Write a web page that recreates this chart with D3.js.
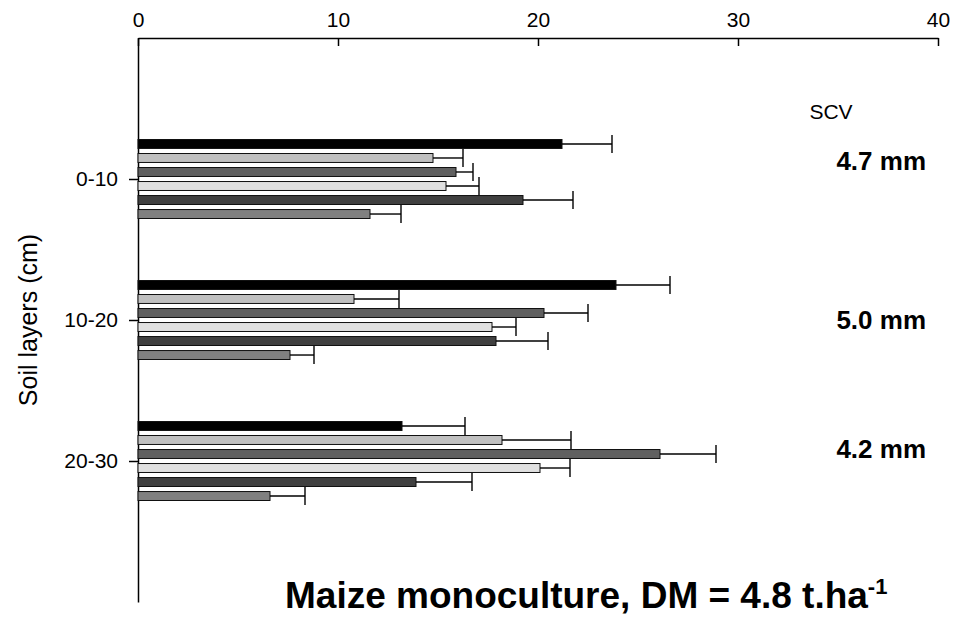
<!DOCTYPE html>
<html>
<head>
<meta charset="utf-8">
<script src="https://cdn.jsdelivr.net/npm/d3@7"></script>
<style>
  body { margin: 0; background: #fff; }
  text { font-family: Arial, "Liberation Sans", sans-serif; fill: #000; }
</style>
</head>
<body>
<div class="chart"></div>
<script>

// data
var layers = ["0-10", "10-20", "20-30"];
var series = ["s1", "s2", "s3", "s4", "s5", "s6"];
var seriesColors = ["#000000", "#c0c0c0", "#606060", "#e0e0e0", "#404040", "#808080"];

// mean values per layer (one entry per series)
var layer1 = [21.2, 14.75, 15.9, 15.4, 19.25, 11.6];
var layer2 = [23.9, 10.8, 20.3, 17.7, 17.9, 7.6];
var layer3 = [13.2, 18.2, 26.1, 20.1, 13.9, 6.6];

// error (added on the right of each bar)
var err1 = [2.5, 1.5, 0.85, 1.65, 2.5, 1.55];
var err2 = [2.7, 2.25, 2.2, 1.2, 2.6, 1.2];
var err3 = [3.15, 3.45, 2.8, 1.5, 2.8, 1.75];

var xTicks = [0, 10, 20, 30, 40];
var scvLabels = ["4.7 mm", "5.0 mm", "4.2 mm"];

var svgWidth = 958;
var svgHeight = 618;

var margin = { top: 38, right: 20, bottom: 16, left: 138 };
var width = 800;
var height = 564;

var svg = d3.select(".chart")
  .append("svg")
  .attr("width", svgWidth)
  .attr("height", svgHeight);

var chartGroup = svg.append("g")
  .attr("transform", `translate(${margin.left}, ${margin.top})`);

// build rows for drawing
var means = [layer1, layer2, layer3];
var errs = [err1, err2, err3];
var rows = [];
layers.forEach(function(layer, i) {
  series.forEach(function(s, j) {
    rows.push({ layer: layer, series: s, color: seriesColors[j], value: means[i][j], err: errs[i][j] });
  });
});

// scales
var xLinearScale = d3.scaleLinear()
  .domain([0, 40])
  .range([0, width]);

var yScale = d3.scalePoint()
  .domain(layers)
  .range([0, height])
  .padding(1);

var ySeries = d3.scaleBand()
  .domain(series)
  .range([-39.5, 39.5])
  .paddingInner(0.36);

// top axis, ticks pointing into the chart
var topAxis = d3.axisTop(xLinearScale)
  .tickValues(xTicks)
  .tickSize(-8)
  .tickSizeOuter(0)
  .tickPadding(11);

var xAxis = chartGroup.append("g").call(topAxis);
xAxis.selectAll("text").style("font-size", "21px");

// left axis
var leftAxis = d3.axisLeft(yScale)
  .tickSize(9)
  .tickSizeOuter(0)
  .tickPadding(11);

var yAxis = chartGroup.append("g").call(leftAxis);
yAxis.selectAll("text").style("font-size", "21px");

[xAxis, yAxis].forEach(function(ax) {
  ax.selectAll("path, line").attr("stroke", "#000").attr("stroke-width", 1.5);
});

// bars
chartGroup.selectAll("rect.bar")
  .data(rows)
  .enter()
  .append("rect")
  .attr("class", "bar")
  .attr("x", 0)
  .attr("y", d => yScale(d.layer) + ySeries(d.series))
  .attr("width", d => xLinearScale(d.value))
  .attr("height", ySeries.bandwidth())
  .attr("fill", d => d.color)
  .attr("stroke", "#111")
  .attr("stroke-width", 1);

// error bars
var errGroup = chartGroup.append("g")
  .attr("stroke", "#000")
  .attr("stroke-width", 1.4);

errGroup.selectAll("line.err")
  .data(rows)
  .enter()
  .append("line")
  .attr("x1", d => xLinearScale(d.value))
  .attr("x2", d => xLinearScale(d.value + d.err))
  .attr("y1", d => yScale(d.layer) + ySeries(d.series) + ySeries.bandwidth() / 2)
  .attr("y2", d => yScale(d.layer) + ySeries(d.series) + ySeries.bandwidth() / 2);

errGroup.selectAll("line.cap")
  .data(rows)
  .enter()
  .append("line")
  .attr("x1", d => xLinearScale(d.value + d.err))
  .attr("x2", d => xLinearScale(d.value + d.err))
  .attr("y1", d => yScale(d.layer) + ySeries(d.series) + ySeries.bandwidth() / 2 - 9)
  .attr("y2", d => yScale(d.layer) + ySeries(d.series) + ySeries.bandwidth() / 2 + 9);

// y axis title
chartGroup.append("text")
  .attr("transform", "rotate(-90)")
  .attr("x", 0 - 282)
  .attr("y", 0 - 101)
  .attr("text-anchor", "middle")
  .style("font-size", "25px")
  .text("Soil layers (cm)");

// SCV labels
chartGroup.append("text")
  .attr("x", 693)
  .attr("y", 81)
  .attr("text-anchor", "middle")
  .style("font-size", "21px")
  .text("SCV");

var scvOffsets = [-18, 0, -12];
chartGroup.selectAll("text.scv")
  .data(scvLabels)
  .enter()
  .append("text")
  .attr("class", "scv")
  .attr("x", 788)
  .attr("y", (d, i) => yScale(layers[i]) + scvOffsets[i] + 9)
  .attr("text-anchor", "end")
  .style("font-size", "26px")
  .style("font-weight", "bold")
  .text(d => d);

// bottom title
var title = svg.append("text")
  .attr("x", 285)
  .attr("y", 608)
  .style("font-size", "37px")
  .style("font-weight", "bold");
title.append("tspan").text("Maize monoculture, DM = 4.8 t.ha");
title.append("tspan")
  .attr("dy", -14)
  .style("font-size", "22px")
  .text("-1");

</script>
</body>
</html>
